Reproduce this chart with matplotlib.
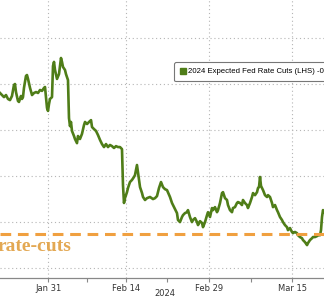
import datetime as dt
import numpy as np
import matplotlib
matplotlib.use("Agg")
import matplotlib.pyplot as plt
import matplotlib.dates as mdates
from matplotlib.patches import Patch

# days elapsed since 2024-01-22 08:00 (intraday samples)
days = [0.00, 0.36, 0.72, 1.08, 1.44, 1.80, 2.16, 2.52, 2.70, 2.88, 3.24, 3.42, 3.78, 3.96,
        4.14, 4.32, 4.68, 4.86, 5.05, 5.41, 5.77, 6.13, 6.49, 6.85, 7.21, 7.57, 7.93, 8.11,
        8.29, 8.47, 8.65, 8.83, 9.01, 9.37, 9.55, 9.73, 9.91, 10.27, 10.63, 10.99, 11.17,
        11.35, 11.71, 11.89, 12.07, 12.25, 12.43, 12.61, 12.79, 12.97, 13.33, 13.51, 13.87,
        14.05, 14.41, 14.77, 15.14, 15.32, 15.68, 16.04, 16.40, 16.58, 16.94, 17.30, 17.66,
        18.02, 18.38, 18.74, 19.10, 19.46, 19.82, 20.18, 20.54, 20.90, 21.26, 21.62, 21.98,
        22.16, 22.34, 22.52, 22.88, 23.06, 23.42, 23.78, 24.14, 24.32, 24.68, 24.86, 25.23,
        25.59, 25.77, 26.13, 26.49, 27.03, 27.57, 27.93, 28.29, 28.65, 29.01, 29.37, 29.73,
        30.09, 30.63, 30.99, 31.17, 31.53, 31.89, 32.07, 32.43, 32.79, 32.97, 33.33, 33.69,
        33.87, 34.23, 34.59, 34.77, 35.14, 35.50, 35.68, 36.04, 36.40, 36.58, 36.94, 37.30,
        37.48, 37.84, 38.20, 38.38, 38.74, 39.10, 39.28, 39.64, 40.00, 40.18, 40.54, 40.90,
        41.08, 41.44, 41.80, 41.98, 42.34, 42.70, 42.88, 43.24, 43.60, 43.78, 44.14, 44.50,
        44.68, 45.05, 45.41, 45.59, 45.95, 46.31, 46.49, 46.67, 46.85, 47.03, 47.21, 47.39,
        47.75, 48.11, 48.29, 48.65, 49.01, 49.19, 49.55, 49.91, 50.09, 50.45, 50.81, 50.99,
        51.35, 51.71, 51.89, 52.25, 52.61, 52.79, 53.15, 53.51, 53.69, 54.05, 54.41, 54.59,
        54.95, 55.32, 55.50, 55.86, 56.22, 56.40, 56.76, 57.12, 57.30, 57.66, 57.84, 58.02,
        58.20, 58.38]

# 2024 expected Fed rate cuts, in % (inverted scale)
cuts = [-1.361, -1.352, -1.343, -1.352, -1.335, -1.330, -1.348, -1.396, -1.400, -1.365,
        -1.326, -1.322, -1.348, -1.335, -1.343, -1.383, -1.435, -1.439, -1.422, -1.383,
        -1.352, -1.361, -1.365, -1.361, -1.374, -1.370, -1.383, -1.387, -1.339, -1.296,
        -1.283, -1.313, -1.335, -1.343, -1.478, -1.496, -1.461, -1.422, -1.443, -1.513,
        -1.496, -1.474, -1.461, -1.443, -1.430, -1.417, -1.252, -1.217, -1.235, -1.196,
        -1.174, -1.161, -1.143, -1.174, -1.161, -1.183, -1.222, -1.235, -1.226, -1.235,
        -1.243, -1.213, -1.204, -1.196, -1.178, -1.157, -1.139, -1.126, -1.139, -1.126,
        -1.135, -1.130, -1.122, -1.130, -1.126, -1.126, -1.117, -0.961, -0.883, -0.904,
        -0.930, -0.948, -0.974, -0.983, -0.996, -1.004, -1.048, -1.017, -0.952, -0.926,
        -0.909, -0.896, -0.904, -0.909, -0.900, -0.904, -0.913, -0.948, -0.974, -0.952,
        -0.943, -0.939, -0.909, -0.883, -0.874, -0.857, -0.839, -0.809, -0.800, -0.822,
        -0.830, -0.839, -0.843, -0.852, -0.822, -0.800, -0.809, -0.817, -0.800, -0.787,
        -0.804, -0.796, -0.778, -0.800, -0.830, -0.843, -0.822, -0.861, -0.852, -0.865,
        -0.843, -0.852, -0.883, -0.926, -0.930, -0.904, -0.896, -0.874, -0.852, -0.843,
        -0.861, -0.865, -0.883, -0.887, -0.883, -0.874, -0.896, -0.883, -0.874, -0.861,
        -0.883, -0.909, -0.926, -0.917, -0.930, -0.948, -0.952, -0.996, -0.957, -0.948,
        -0.939, -0.917, -0.909, -0.917, -0.909, -0.883, -0.865, -0.874, -0.852, -0.843,
        -0.822, -0.809, -0.800, -0.787, -0.778, -0.765, -0.774, -0.757, -0.752, -0.757,
        -0.752, -0.743, -0.735, -0.730, -0.722, -0.713, -0.700, -0.709, -0.722, -0.730,
        -0.735, -0.735, -0.739, -0.743, -0.743, -0.765, -0.822, -0.852, -0.843]

dots_level = -0.75   # 3 rate-cuts
major_days = ["2024-01-31", "2024-02-14", "2024-02-29", "2024-03-15"]
major_labels = ["Jan 31", "Feb 14", "Feb 29", "Mar 15"]
minor_days = ["2024-02-07", "2024-02-21 12:00", "2024-03-07 12:00"]
grid_levels = [-1.6, -1.4, -1.2, -1.0, -0.8, -0.6]

green = "#4f7d18"
orange = "#f0a040"

start = dt.datetime(2024, 1, 22, 8, 0)
dates = [start + dt.timedelta(days=d) for d in days]

fig = plt.figure(figsize=(3.24, 2.98), dpi=100)
ax = fig.add_axes([0, 20 / 298, 1, 278 / 298])

ax.plot(dates, cuts, color=green, lw=1.9, solid_joinstyle="round")
ax.axhline(dots_level, color=orange, lw=2.2, dashes=(3.5, 2.2))
ax.text(-0.008, 0.113, "rate-cuts", transform=ax.transAxes, color="#e3a853",
        fontsize=14, fontweight="bold", family="Liberation Serif", va="center", ha="left")

ax.set_xlim(start, start + dt.timedelta(days=58.38))
ax.set_ylim(-0.557, -1.765)

ax.set_yticks(grid_levels)
ax.tick_params(axis="y", left=False, labelleft=False)
ax.set_xticks([mdates.datestr2num(d) for d in major_days])
ax.set_xticklabels(major_labels)
ax.set_xticks([mdates.datestr2num(d) for d in minor_days], minor=True)
ax.tick_params(axis="x", which="both", length=3, width=0.8, color="#888888",
               labelsize=6, labelcolor="#333333", pad=1.5)
ax.grid(True, which="major", color="#b5b5b5", lw=0.8, ls=(0, (1, 2.5)))

for s in ["top", "left", "right"]:
    ax.spines[s].set_visible(False)
ax.spines["bottom"].set_color("#888888")
ax.spines["bottom"].set_linewidth(0.9)

fig.text(165 / 324, 5 / 298, "2024", fontsize=6, color="#333333", ha="center", va="center")

leg = ax.legend(handles=[Patch(facecolor=green, edgecolor=green)],
                labels=["2024 Expected Fed Rate Cuts (LHS) -0.84"],
                loc="upper left", bbox_to_anchor=(174 / 324, 1 - 62 / 278),
                prop={"family": "Liberation Sans", "size": 5.6},
                handlelength=0.75, handleheight=0.75, handletextpad=0.35,
                borderpad=0.75, borderaxespad=0, fancybox=True, framealpha=1)
leg.get_frame().set_edgecolor("#777777")
leg.get_frame().set_linewidth(0.8)

fig.savefig("out.png", dpi=100)
